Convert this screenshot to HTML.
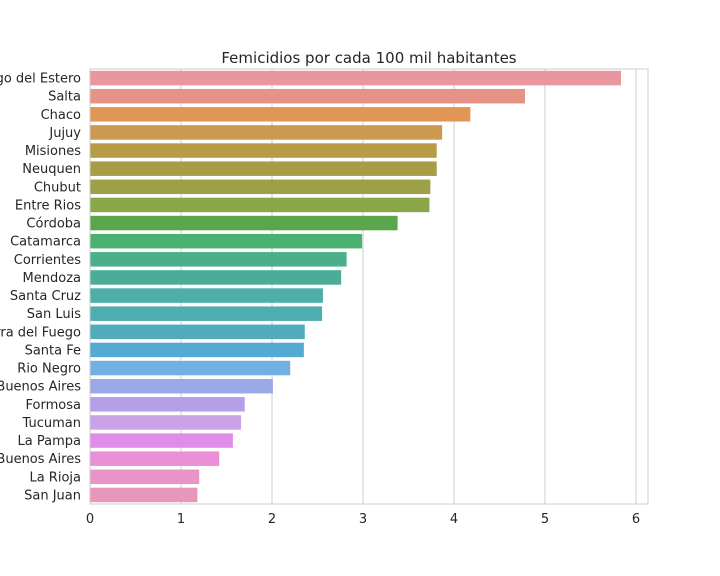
<!DOCTYPE html>
<html><head><meta charset="utf-8"><style>
html,body{margin:0;padding:0;background:#fff;width:720px;height:576px;overflow:hidden}
svg text{font-family:"DejaVu Sans","Liberation Sans",sans-serif;fill:#262626}
</style></head><body>
<svg id="chart" width="720" height="576" xmlns="http://www.w3.org/2000/svg"></svg>
<script>
const categories=["Santiago del Estero","Salta","Chaco","Jujuy","Misiones","Neuquen","Chubut","Entre Rios","Córdoba","Catamarca","Corrientes","Mendoza","Santa Cruz","San Luis","Tierra del Fuego","Santa Fe","Rio Negro","Ciudad de Buenos Aires","Formosa","Tucuman","La Pampa","Provincia de Buenos Aires","La Rioja","San Juan"];
const values=[5.835,4.78,4.18,3.87,3.81,3.81,3.74,3.73,3.38,2.99,2.82,2.76,2.56,2.55,2.36,2.35,2.2,2.01,1.70,1.66,1.57,1.42,1.20,1.18];
const xTicks=[0,1,2,3,4,5,6];
const colors=["#e9969e","#e69286","#e29656","#cb9a4e","#b89b45","#a89d45","#9ea048","#8ba646","#5ba64a","#4bb171","#4bb08a","#4aad98","#4daeaa","#4dadb1","#50abbd","#55aad3","#72b0e4","#9ba9e8","#b59fe8","#cba1e8","#e08ce8","#e98fd8","#e994c8","#e996bf"];
const svg=document.getElementById('chart');
const NS="http://www.w3.org/2000/svg";
const L=90,R=648,T=69,B=504;
const xs=v=>L+v*91;
const band=(B-T)/categories.length;
function mk(t,a){const e=document.createElementNS(NS,t);for(const k in a)e.setAttribute(k,a[k]);svg.appendChild(e);return e;}
xTicks.forEach(t=>{
 const g=mk('line',{x1:xs(t),x2:xs(t),y1:T,y2:B,stroke:'#cccccc','stroke-width':1});
 
 
 const tx=mk('text',{x:xs(t),y:523,'text-anchor':'middle','font-size':13});
 tx.textContent=t;
 
 
});
categories.forEach((c,i)=>{
 const y=T+i*band;
 const r=mk('rect',{x:L,y:y+band*0.1,width:xs(values[i])-L,height:band*0.8,fill:colors[i]});
 
 
 const t=mk('text',{x:81,y:y+band/2+4.5,'text-anchor':'end','font-size':13});
 t.textContent=c;
 
 
});
const f=mk('rect',{x:L,y:T,width:R-L,height:B-T,fill:'none',stroke:'#cccccc','stroke-width':1});


const ti=mk('text',{x:369,y:63,'text-anchor':'middle','font-size':15});
ti.textContent="Femicidios por cada 100 mil habitantes";


</script>
</body></html>
